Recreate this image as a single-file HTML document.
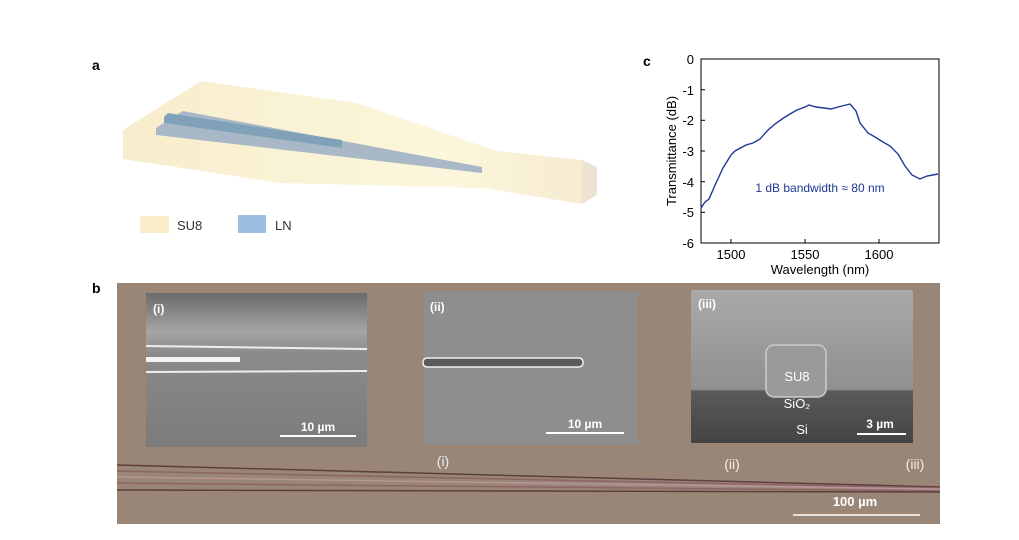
<!DOCTYPE html>
<html><head><meta charset="utf-8"><style>
body{margin:0;background:#fff;width:1019px;height:535px;overflow:hidden;font-family:"Liberation Sans",Arial,sans-serif;}
</style></head><body>
<svg width="1019" height="535" xmlns="http://www.w3.org/2000/svg" font-family="Liberation Sans, Arial, sans-serif">
<defs>
<linearGradient id="su" x1="0" x2="1"><stop offset="0" stop-color="#f7edcc"/><stop offset="0.7" stop-color="#fcf7dc"/><stop offset="1" stop-color="#f6ebd0"/></linearGradient>
<linearGradient id="sem1" x1="0" y1="0" x2="0" y2="1"><stop offset="0" stop-color="#6a6a6a"/><stop offset="0.25" stop-color="#a5a5a5"/><stop offset="0.4" stop-color="#8a8a8a"/><stop offset="1" stop-color="#7b7b7b"/></linearGradient>
<linearGradient id="sem3" x1="0" y1="0" x2="0" y2="1"><stop offset="0" stop-color="#a9a9a9"/><stop offset="0.65" stop-color="#909090"/><stop offset="0.66" stop-color="#5a5a5a"/><stop offset="1" stop-color="#444"/></linearGradient>
</defs>
<text x="92" y="70" font-size="14" font-weight="bold">a</text>
<polygon points="123,130 201,81 357,103 497,151 582,160 582,204 483,188 280,183 123,159" fill="url(#su)"/>
<polygon points="582,160 597,167 597,195 582,204" fill="#ece3d3"/>
<polygon points="156,128 183,111 482,167 482,173 156,135" fill="#a9b8c6"/>
<polygon points="164,117 168,113 342,140 342,148 164,123" fill="#80a2b8"/>
<rect x="140" y="216" width="29" height="17" fill="#f9ecc8"/>
<text x="177" y="230" font-size="13" fill="#333">SU8</text>
<rect x="238" y="215" width="28" height="18" fill="#9dbde0"/>
<text x="275" y="230" font-size="13" fill="#333">LN</text>

<text x="643" y="66" font-size="14" font-weight="bold">c</text>
<rect x="701" y="59" width="238" height="184" fill="none" stroke="#000" stroke-width="1"/>
<g font-size="13" text-anchor="end">
<text x="694" y="64">0</text><text x="694" y="95">-1</text><text x="694" y="125">-2</text><text x="694" y="156">-3</text><text x="694" y="187">-4</text><text x="694" y="217">-5</text><text x="694" y="248">-6</text>
</g>
<g stroke="#000"><line x1="701" y1="89.7" x2="705" y2="89.7"/><line x1="701" y1="120.3" x2="705" y2="120.3"/><line x1="701" y1="151" x2="705" y2="151"/><line x1="701" y1="181.7" x2="705" y2="181.7"/><line x1="701" y1="212.3" x2="705" y2="212.3"/>
<line x1="731" y1="243" x2="731" y2="239"/><line x1="805" y1="243" x2="805" y2="239"/><line x1="879" y1="243" x2="879" y2="239"/></g>
<g font-size="13" text-anchor="middle"><text x="731" y="259">1500</text><text x="805" y="259">1550</text><text x="879" y="259">1600</text></g>
<text x="820" y="274" font-size="13" text-anchor="middle">Wavelength (nm)</text>
<text x="676" y="151" font-size="13" text-anchor="middle" transform="rotate(-90 676 151)">Transmittance (dB)</text>
<polyline fill="none" stroke="#1f3797" stroke-width="1.4" points="701,208 705,202 709,199 716,183 723,168 731,155 735,151 746,145 753,143 760,139 768,130 775,124 782,119 790,114 797,110 805,107 809,105 816,107 824,108 831,109 838,107 846,105 850,104 856,111 860,123 868,133 875,137 883,142 890,146 898,154 905,166 912,175 920,179 927,176 938,174"/>
<text x="820" y="192" font-size="12" fill="#1f3797" text-anchor="middle">1 dB bandwidth ≈ 80 nm</text>

<text x="92" y="293" font-size="14" font-weight="bold">b</text>
<rect x="117" y="283" width="823" height="241" fill="#9a8676"/>
<g stroke-width="1.5" fill="none">
<line x1="117" y1="465" x2="940" y2="487" stroke="#5c3f3e"/>
<line x1="117" y1="471" x2="940" y2="488" stroke="#8d6466"/>
<line x1="117" y1="477" x2="940" y2="489" stroke="#b59598"/>
<line x1="117" y1="483" x2="940" y2="491" stroke="#8d6466"/>
<line x1="117" y1="490" x2="940" y2="492" stroke="#5c3f3e"/>
</g>
<g fill="#eee" font-size="14" text-anchor="middle"><text x="443" y="466">(i)</text><text x="732" y="469">(ii)</text><text x="915" y="469">(iii)</text></g>
<line x1="793" y1="515" x2="920" y2="515" stroke="#fff" stroke-width="1.5"/>
<text x="855" y="506" font-size="13" font-weight="bold" fill="#fff" text-anchor="middle">100 µm</text>

<rect x="146" y="293" width="221" height="154" fill="url(#sem1)"/>
<line x1="146" y1="346" x2="367" y2="349" stroke="#eee" stroke-width="2"/>
<line x1="146" y1="372" x2="367" y2="371" stroke="#eee" stroke-width="2"/>
<rect x="146" y="357" width="94" height="5" fill="#f3f3f3"/>
<text x="153" y="313" font-size="12" font-weight="bold" fill="#fff">(i)</text>
<line x1="280" y1="436" x2="356" y2="436" stroke="#fff" stroke-width="2"/>
<text x="318" y="431" font-size="12" font-weight="bold" fill="#fff" text-anchor="middle">10 µm</text>

<rect x="423" y="291" width="215" height="154" fill="#8e8e8e"/>
<rect x="423" y="358" width="160" height="9" rx="4" fill="#5b5b5b" stroke="#f0f0f0" stroke-width="1.5"/>
<text x="430" y="311" font-size="12" font-weight="bold" fill="#fff">(ii)</text>
<line x1="546" y1="433" x2="624" y2="433" stroke="#fff" stroke-width="2"/>
<text x="585" y="428" font-size="12" font-weight="bold" fill="#fff" text-anchor="middle">10 µm</text>

<rect x="691" y="290" width="222" height="153" fill="url(#sem3)"/>
<rect x="766" y="345" width="60" height="52" rx="8" fill="#9a9a9a" stroke="#ccc" stroke-width="1.5"/>
<text x="698" y="308" font-size="12" font-weight="bold" fill="#fff">(iii)</text>
<text x="797" y="381" font-size="13" fill="#fff" text-anchor="middle">SU8</text>
<text x="797" y="408" font-size="13" fill="#fff" text-anchor="middle">SiO₂</text>
<text x="802" y="434" font-size="13" fill="#fff" text-anchor="middle">Si</text>
<line x1="857" y1="434" x2="906" y2="434" stroke="#fff" stroke-width="2"/>
<text x="880" y="428" font-size="12" font-weight="bold" fill="#fff" text-anchor="middle">3 µm</text>
</svg>
</body></html>
